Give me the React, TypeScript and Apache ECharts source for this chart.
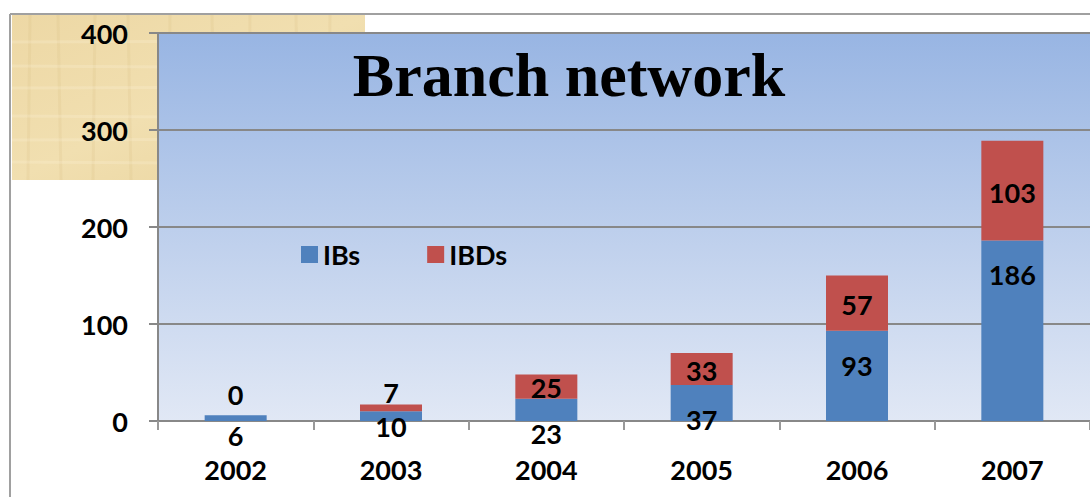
import React, { useEffect, useRef } from "react";
import * as echarts from "echarts";

const years = ["2002", "2003", "2004", "2005", "2006", "2007"];
const ibs = [6, 10, 23, 37, 93, 186];
const ibds = [0, 7, 25, 33, 57, 103];
const yTicks = [0, 100, 200, 300, 400];

// vertical label nudges (Excel hand-placed labels)
const ibsLabelDy = [17, 10, 24, 16, -10, -56];
const ibdsLabelDy = [-21, -15, 1, 1, 1, 2];

const FONT = "Lato";
const FS = 27;

export default function App() {
  const ref = useRef<HTMLDivElement>(null);
  useEffect(() => {
    if (!ref.current) return;
    const chart = echarts.init(ref.current, undefined, { renderer: "svg" });
    const labelStyle = {
      show: true,
      position: "inside" as const,
      color: "#000",
      fontFamily: FONT,
      fontWeight: "bold" as const,
      fontSize: FS,
    };
    const texture: any[] = [];
    const tx = [30, 58, 95, 128, 170, 212, 250, 296, 330];
    const ty = [42, 66, 88, 116, 140, 162];
    tx.forEach((x, i) =>
      texture.push({
        type: "line",
        z: -19,
        shape: { x1: x, y1: 15, x2: x + (i % 2 ? 3 : -2), y2: 180 },
        style: { stroke: "rgba(205,175,110,0.14)", lineWidth: 3 },
      })
    );
    ty.forEach((y, i) =>
      texture.push({
        type: "line",
        z: -19,
        shape: { x1: 12, y1: y, x2: 365, y2: y + (i % 2 ? 2 : -1) },
        style: { stroke: "rgba(255,248,225,0.22)", lineWidth: 3 },
      })
    );
    chart.setOption({
      animation: false,
      backgroundColor: "#fff",
      graphic: [
        {
          type: "rect",
          z: -20,
          shape: { x: 12, y: 15, width: 353, height: 165 },
          style: {
            fill: new echarts.graphic.LinearGradient(0, 0, 1, 1, [
              { offset: 0, color: "#EDD8A5" },
              { offset: 0.5, color: "#F1DFB0" },
              { offset: 1, color: "#E9D39C" },
            ]),
          },
        },
        ...texture,
        {
          type: "rect",
          z: -10,
          shape: { x: 158, y: 33, width: 934, height: 388 },
          style: {
            fill: new echarts.graphic.LinearGradient(0, 0, 0, 1, [
              { offset: 0, color: "#98B5E3" },
              { offset: 1, color: "#E1E8F5" },
            ]),
          },
        },
        {
          type: "line",
          z: 5,
          shape: { x1: 10, y1: 14, x2: 1090, y2: 14 },
          style: { stroke: "#A0A0A0", lineWidth: 2 },
        },
        {
          type: "line",
          z: 5,
          shape: { x1: 10, y1: 14, x2: 10, y2: 497 },
          style: { stroke: "#A0A0A0", lineWidth: 2 },
        },
        {
          type: "text",
          z: 10,
          x: 569,
          y: 75,
          style: {
            text: "Branch network",
            fontFamily: "Liberation Serif",
            fontWeight: "bold",
            fontSize: 62,
            fill: "#000",
            align: "center",
            verticalAlign: "middle",
          },
        },
      ],
      legend: {
        left: 296,
        top: 236,
        itemWidth: 17,
        itemHeight: 17,
        itemGap: 67,
        icon: "rect",
        textStyle: {
          fontFamily: FONT,
          fontWeight: "bold",
          fontSize: FS,
          color: "#000",
        },
        data: ["IBs", "IBDs"],
      },
      grid: { left: 158, top: 33, width: 934, height: 388, show: false },
      xAxis: {
        type: "category",
        data: years,
        axisLine: { lineStyle: { color: "#888", width: 2 } },
        axisTick: { show: true, length: 9, lineStyle: { color: "#999", width: 2 } },
        axisLabel: {
          margin: 35,
          color: "#000",
          fontFamily: FONT,
          fontWeight: "bold",
          fontSize: FS,
        },
      },
      yAxis: {
        type: "value",
        min: yTicks[0],
        max: yTicks[yTicks.length - 1],
        interval: 100,
        axisLine: { show: true, lineStyle: { color: "#888", width: 2 } },
        axisTick: { show: true, length: 9, lineStyle: { color: "#888", width: 2 } },
        splitLine: { lineStyle: { color: "#888", width: 2 } },
        axisLabel: {
          margin: 30,
          color: "#000",
          fontFamily: FONT,
          fontWeight: "bold",
          fontSize: FS,
        },
      },
      series: [
        {
          name: "IBs",
          type: "bar",
          stack: "total",
          barWidth: 62,
          itemStyle: { color: "#4F81BD" },
          data: ibs.map((v, i) => ({
            value: v,
            label: { ...labelStyle, offset: [0, ibsLabelDy[i]] },
          })),
        },
        {
          name: "IBDs",
          type: "bar",
          stack: "total",
          barWidth: 62,
          itemStyle: { color: "#C0504D" },
          data: ibds.map((v, i) => ({
            value: v,
            label: { ...labelStyle, offset: [0, ibdsLabelDy[i]] },
          })),
        },
      ],
    });
    return () => chart.dispose();
  }, []);
  return <div ref={ref} style={{ width: 1090, height: 497, position: "absolute", left: 0, top: 0 }} />;
}
